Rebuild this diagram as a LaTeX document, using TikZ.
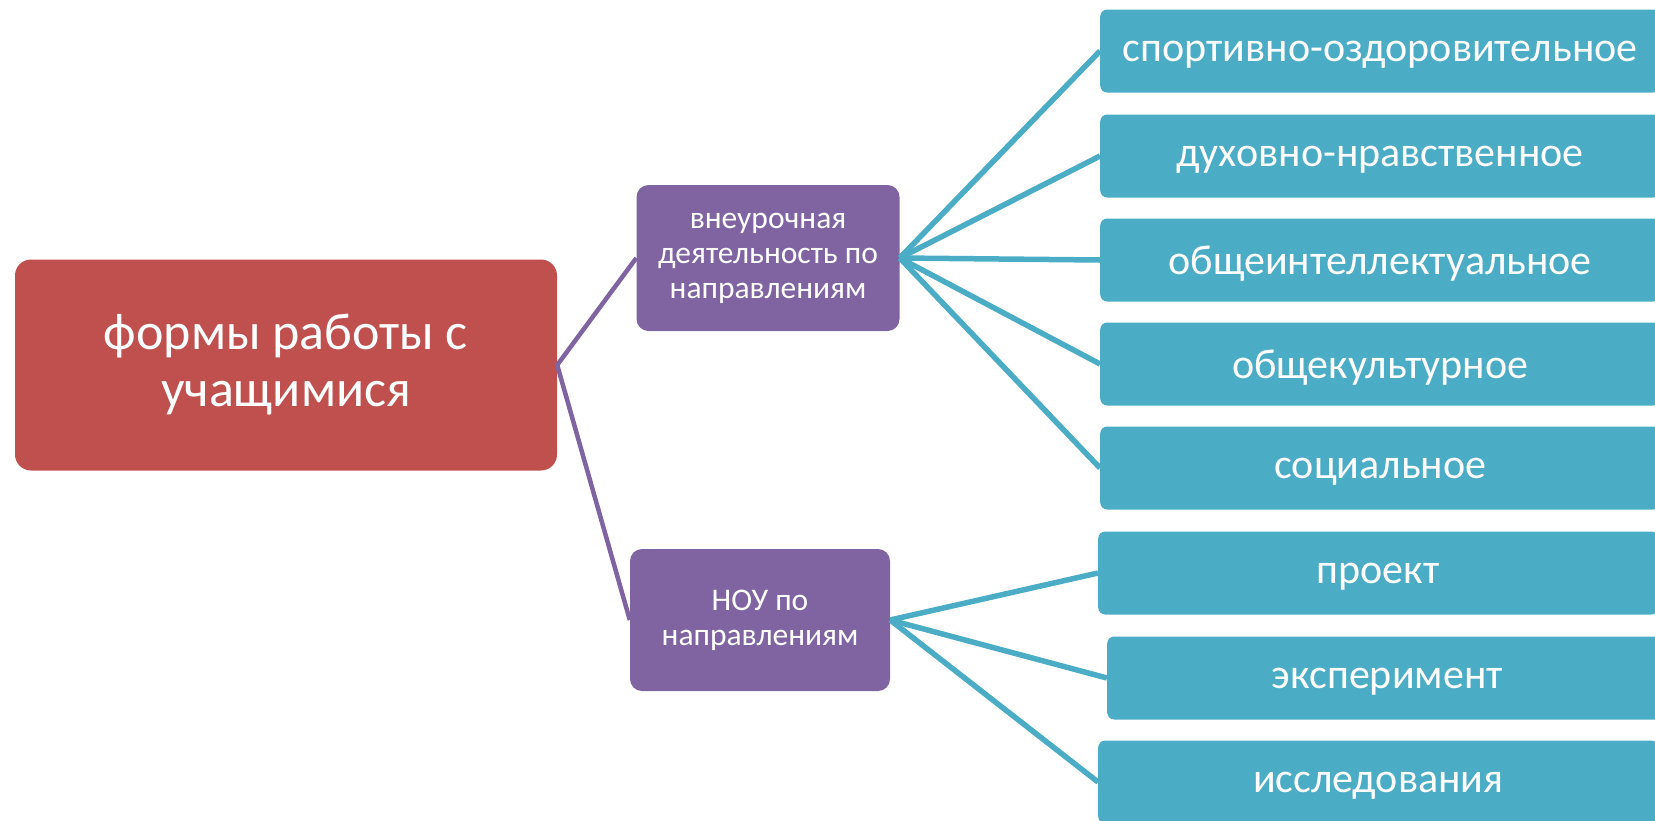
\documentclass[tikz,border=0pt]{standalone}
\usepackage{fontspec}
\setmainfont{Carlito}
\definecolor{rootred}{HTML}{C0504D}
\definecolor{midpurple}{HTML}{8064A2}
\definecolor{leafteal}{HTML}{4BACC6}
\tikzset{
  rootbox/.style={fill=rootred, text=white, rounded corners=16pt, minimum width=542pt, minimum height=211pt, align=center, font=\fontsize{52}{57}\selectfont},
  midbox/.style={fill=midpurple, text=white, rounded corners=12pt, align=center, font=\fontsize{31.5}{35}\selectfont},
  leafbox/.style={fill=leafteal, text=white, rounded corners=7pt, anchor=west, minimum width=560pt, minimum height=83pt, text depth=0pt, font=\fontsize{42}{50}\selectfont},
  midline/.style={midpurple, line width=4.5pt},
  leafline/.style={leafteal, line width=5.5pt}
}
\begin{document}
\begin{tikzpicture}[x=1pt, y=-1pt]
  \useasboundingbox (0,0) rectangle (1655,820);
  \clip (0,0) rectangle (1655,820);
  \node[rootbox] (forms) at (286,365) {формы работы с\\учащимися};
  \node[midbox, minimum width=263pt, minimum height=146pt] (extra) at (768,258) {внеурочная\\деятельность по\\направлениям};
  \node[midbox, minimum width=260pt, minimum height=142pt] (nou) at (760,620) {НОУ по\\направлениям};
  \node[leafbox] (sport) at (1100,51) {спортивно-оздоровительное};
  \node[leafbox] (moral) at (1100,156) {духовно-нравственное};
  \node[leafbox] (intel) at (1100,260) {общеинтеллектуальное};
  \node[leafbox] (cult) at (1100,364) {общекультурное};
  \node[leafbox] (soc) at (1100,468) {социальное};
  \node[leafbox] (proj) at (1098,573) {проект};
  \node[leafbox] (exper) at (1107,678) {эксперимент};
  \node[leafbox] (research) at (1098,782) {исследования};
  \draw[midline] (extra.west) -- (forms.east) -- (nou.west);
  \foreach \leaf in {sport, moral, intel, cult, soc}
    \draw[leafline] (extra.east) -- (\leaf.west);
  \foreach \leaf in {proj, exper, research}
    \draw[leafline] (nou.east) -- (\leaf.west);
\end{tikzpicture}
\end{document}
